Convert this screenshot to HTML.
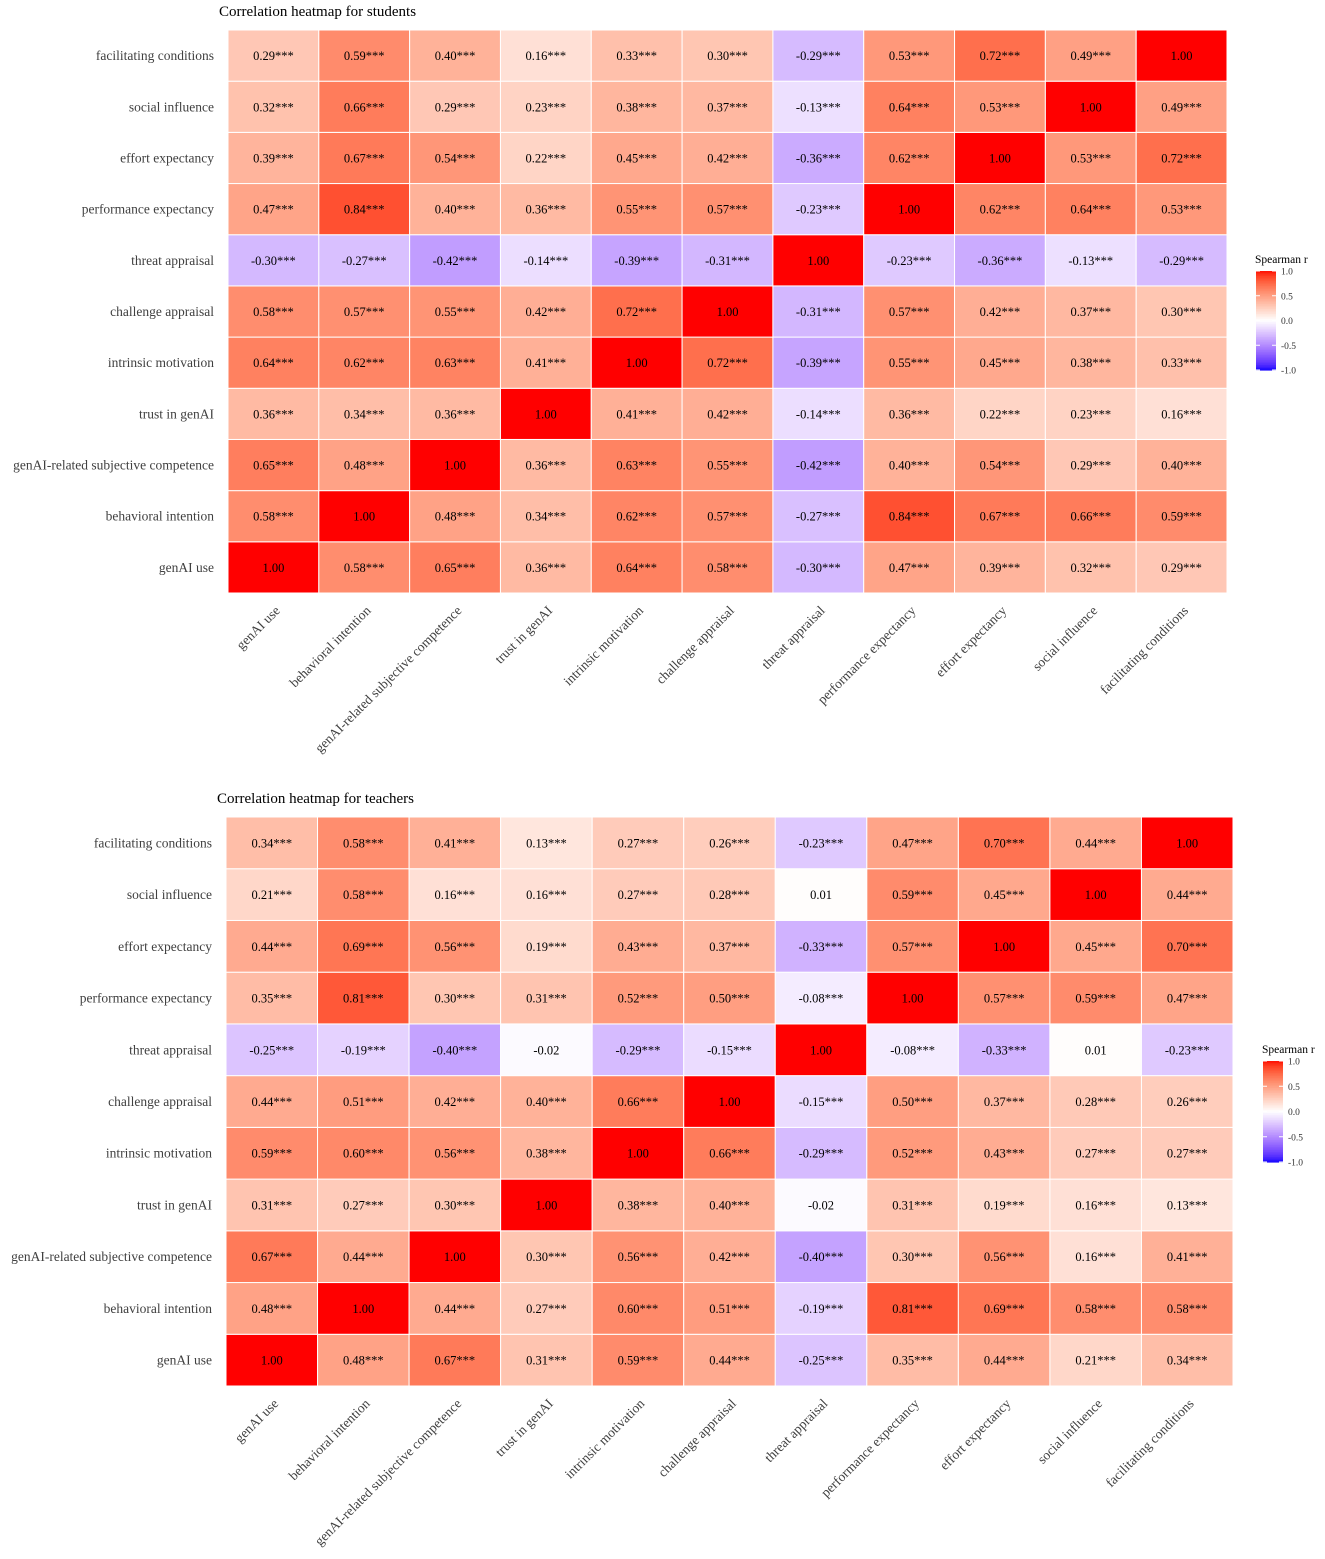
<!DOCTYPE html>
<html><head><meta charset="utf-8">
<style>
html,body{margin:0;padding:0;background:#fff;}
svg{display:block;font-family:"Liberation Serif",serif;}
</style></head>
<body>
<svg id="chart" width="1325" height="1559" viewBox="0 0 1325 1559" xmlns="http://www.w3.org/2000/svg"></svg>
<script>
// Variables in column order (left to right); rows are drawn with the first variable at the bottom
const variables = ["genAI use","behavioral intention","genAI-related subjective competence","trust in genAI","intrinsic motivation","challenge appraisal","threat appraisal","performance expectancy","effort expectancy","social influence","facilitating conditions"];
const legendTicks = [1.0, 0.5, 0.0, -0.5, -1.0];
const legendTickLabels = ["1.0","0.5","0.0","-0.5","-1.0"];
// Students matrix, row i = variables[i]
const studentsR = [
 [1.00,0.58,0.65,0.36,0.64,0.58,-0.30,0.47,0.39,0.32,0.29],
 [0.58,1.00,0.48,0.34,0.62,0.57,-0.27,0.84,0.67,0.66,0.59],
 [0.65,0.48,1.00,0.36,0.63,0.55,-0.42,0.40,0.54,0.29,0.40],
 [0.36,0.34,0.36,1.00,0.41,0.42,-0.14,0.36,0.22,0.23,0.16],
 [0.64,0.62,0.63,0.41,1.00,0.72,-0.39,0.55,0.45,0.38,0.33],
 [0.58,0.57,0.55,0.42,0.72,1.00,-0.31,0.57,0.42,0.37,0.30],
 [-0.30,-0.27,-0.42,-0.14,-0.39,-0.31,1.00,-0.23,-0.36,-0.13,-0.29],
 [0.47,0.84,0.40,0.36,0.55,0.57,-0.23,1.00,0.62,0.64,0.53],
 [0.39,0.67,0.54,0.22,0.45,0.42,-0.36,0.62,1.00,0.53,0.72],
 [0.32,0.66,0.29,0.23,0.38,0.37,-0.13,0.64,0.53,1.00,0.49],
 [0.29,0.59,0.40,0.16,0.33,0.30,-0.29,0.53,0.72,0.49,1.00]
];
// Teachers matrix
const teachersR = [
 [1.00,0.48,0.67,0.31,0.59,0.44,-0.25,0.35,0.44,0.21,0.34],
 [0.48,1.00,0.44,0.27,0.60,0.51,-0.19,0.81,0.69,0.58,0.58],
 [0.67,0.44,1.00,0.30,0.56,0.42,-0.40,0.30,0.56,0.16,0.41],
 [0.31,0.27,0.30,1.00,0.38,0.40,-0.02,0.31,0.19,0.16,0.13],
 [0.59,0.60,0.56,0.38,1.00,0.66,-0.29,0.52,0.43,0.27,0.27],
 [0.44,0.51,0.42,0.40,0.66,1.00,-0.15,0.50,0.37,0.28,0.26],
 [-0.25,-0.19,-0.40,-0.02,-0.29,-0.15,1.00,-0.08,-0.33,0.01,-0.23],
 [0.35,0.81,0.30,0.31,0.52,0.50,-0.08,1.00,0.57,0.59,0.47],
 [0.44,0.69,0.56,0.19,0.43,0.37,-0.33,0.57,1.00,0.45,0.70],
 [0.21,0.58,0.16,0.16,0.27,0.28,0.01,0.59,0.45,1.00,0.44],
 [0.34,0.58,0.41,0.13,0.27,0.26,-0.23,0.47,0.70,0.44,1.00]
];

const NS = "http://www.w3.org/2000/svg";
const svg = document.getElementById("chart");
function mk(tag, attrs, parent){const e=document.createElementNS(NS,tag);for(const k in attrs)e.setAttribute(k,attrs[k]);(parent||svg).appendChild(e);return e;}

function srgbToLin(c){c/=255;return c<=0.04045?c/12.92:Math.pow((c+0.055)/1.055,2.4);}
function linToSrgb(c){c=c<=0.0031308?12.92*c:1.055*Math.pow(c,1/2.4)-0.055;return Math.max(0,Math.min(255,Math.round(c*255)));}
function rgb2lab(r,g,b){r=srgbToLin(r);g=srgbToLin(g);b=srgbToLin(b);
 let x=(r*0.4124+g*0.3576+b*0.1805)/0.95047,y=(r*0.2126+g*0.7152+b*0.0722),z=(r*0.0193+g*0.1192+b*0.9505)/1.08883;
 const f=t=>t>0.008856?Math.cbrt(t):7.787*t+16/116;x=f(x);y=f(y);z=f(z);return [116*y-16,500*(x-y),200*(y-z)];}
function lab2rgb(L,a,b){let y=(L+16)/116,x=a/500+y,z=y-b/200;
 const fi=t=>t*t*t>0.008856?t*t*t:(t-16/116)/7.787;x=fi(x)*0.95047;y=fi(y);z=fi(z)*1.08883;
 const r=x*3.2406+y*-1.5372+z*-0.4986,g=x*-0.9689+y*1.8758+z*0.0415,bb=x*0.0557+y*-0.2040+z*1.0570;
 return `rgb(${linToSrgb(r)},${linToSrgb(g)},${linToSrgb(bb)})`;}
const LR=rgb2lab(255,0,0),LW=rgb2lab(255,255,255),LB=rgb2lab(0,0,255);
function color(v){v=Math.max(-1,Math.min(1,v));const t=Math.abs(v),e=v>=0?LR:LB;
 return lab2rgb(LW[0]+(e[0]-LW[0])*t,LW[1]+(e[1]-LW[1])*t,LW[2]+(e[2]-LW[2])*t);}
function fmt(v){let s=v.toFixed(2);if(s==="-0.00")s="0.00";return (v!==1&&Math.abs(v)>=0.05)?s+"***":s;}

function heatmap(cfg){
 const g=mk("g",{});
 
 
 const n=variables.length,cw=(cfg.x1-cfg.x0)/n,ch=(cfg.y1-cfg.y0)/n;
 const xs=j=>cfg.x0+j*cw, ys=i=>cfg.y1-(i+1)*ch;
 const t=mk("text",{x:cfg.titleX,y:cfg.titleY,"font-size":15,fill:"#000"},g);t.textContent=cfg.title;
 
 
 for(let i=0;i<n;i++)for(let j=0;j<n;j++){
  const v=cfg.data[i][j];
  const r=mk("rect",{x:xs(j),y:ys(i),width:cw,height:ch,fill:color(v),stroke:"#fff","stroke-width":1},g);
  
  
  const tx=mk("text",{x:xs(j)+cw/2,y:ys(i)+ch/2+4.5,"text-anchor":"middle","font-size":12.5,fill:"#000"},g);
  tx.textContent=fmt(v);
  
  
 }
 for(let i=0;i<n;i++){
  const l=mk("text",{x:cfg.x0-14,y:ys(i)+ch/2+4.5,"text-anchor":"end","font-size":13.5,fill:"#404040"},g);
  l.textContent=variables[i];
  
  
 }
 for(let j=0;j<n;j++){
  const ax=xs(j)+cw/2+1,ay=cfg.y1+12;
  const l=mk("text",{x:0,y:0,"text-anchor":"end","font-size":13.5,fill:"#404040",transform:`translate(${ax},${ay}) rotate(-45) translate(0,9)`},g);
  l.textContent=variables[j];
  
  
 }
 const lg=mk("g",{},g);
 
 
 const lt=mk("text",{x:cfg.lx-1,y:cfg.ly0-8,"font-size":11.5,fill:"#000"},lg);lt.textContent="Spearman r";
 
 
 const steps=60,lh=(cfg.ly1-cfg.ly0)/steps;
 for(let k=0;k<steps;k++){
  const v=1-2*(k+0.5)/steps;
  const r=mk("rect",{x:cfg.lx,y:cfg.ly0+k*lh,width:20,height:lh+0.6,fill:color(v)},lg);
  
  
 }
 const ly=v=>cfg.ly0+(1-v)/2*(cfg.ly1-cfg.ly0);
 legendTicks.forEach((v,k)=>{
  mk("line",{x1:cfg.lx,x2:cfg.lx+4,y1:ly(v),y2:ly(v),stroke:"#fff","stroke-width":1},lg);
  mk("line",{x1:cfg.lx+16,x2:cfg.lx+20,y1:ly(v),y2:ly(v),stroke:"#fff","stroke-width":1},lg);
  const tt=mk("text",{x:cfg.lx+25,y:ly(v)+3.5,"font-size":9.5,fill:"#333"},lg);tt.textContent=legendTickLabels[k];
  
  
 });
}
heatmap({name:"students-heatmap",title:"Correlation heatmap for students",titleX:219,titleY:16,data:studentsR,x0:228,x1:1227,y0:30,y1:593,lx:1256,ly0:271,ly1:370});
heatmap({name:"teachers-heatmap",title:"Correlation heatmap for teachers",titleX:217,titleY:803,data:teachersR,x0:226,x1:1233,y0:817,y1:1386,lx:1263,ly0:1061,ly1:1162});
</script>
</body></html>
